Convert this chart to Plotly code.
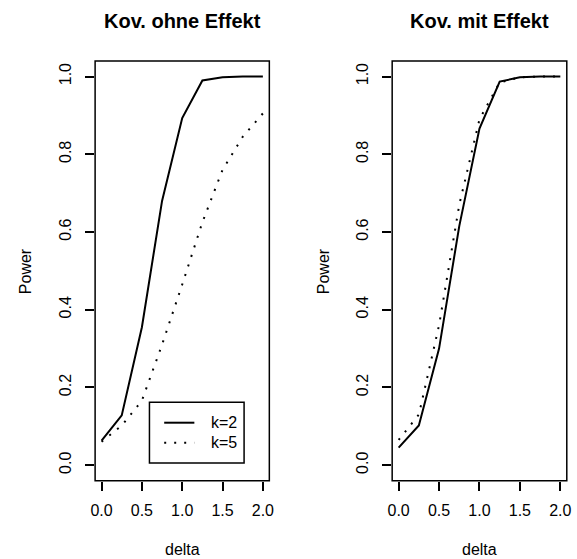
import plotly.graph_objects as go

W, H = 577, 559

delta = [0.0, 0.25, 0.5, 0.75, 1.0, 1.25, 1.5, 1.75, 2.0]
# Kov. ohne Effekt
ohne_k2 = [0.063, 0.128, 0.355, 0.68, 0.893, 0.99, 0.998, 1.0, 1.0]
ohne_k5 = [0.060, 0.102, 0.166, 0.31, 0.465, 0.625, 0.76, 0.845, 0.905]
# Kov. mit Effekt
mit_k2 = [0.045, 0.102, 0.300, 0.615, 0.866, 0.987, 0.998, 1.0, 1.0]
mit_k5 = [0.065, 0.130, 0.360, 0.670, 0.890, 0.985, 0.998, 1.0, 1.0]

titles = ["Kov. ohne Effekt", "Kov. mit Effekt"]
legend_labels = ["k=2", "k=5"]
x_ticks = [0.0, 0.5, 1.0, 1.5, 2.0]
x_ticktext = ["0.0", "0.5", "1.0", "1.5", "2.0"]
y_ticks = [0.0, 0.2, 0.4, 0.6, 0.8, 1.0]
y_ticktext = ["0.0", "0.2", "0.4", "0.6", "0.8", "1.0"]

FONT = "Liberation Sans, Arial, Helvetica, sans-serif"
DOT = "2px,8px"


def px(x):
    return x / W


def py(y):
    return 1 - y / H


# plot boxes in pixels
boxes = [(91.7, 269.0), (394.0, 571.7)]
top, bottom = 61.0, 480.7

fig = go.Figure()

series = [(ohne_k2, ohne_k5), (mit_k2, mit_k5)]
for i, (s2, s5) in enumerate(series):
    xa = "x" if i == 0 else "x2"
    ya = "y" if i == 0 else "y2"
    fig.add_trace(go.Scatter(x=delta, y=s2, mode="lines", xaxis=xa, yaxis=ya,
                             line=dict(color="black", width=2), showlegend=False,
                             name=legend_labels[0]))
    fig.add_trace(go.Scatter(x=delta, y=s5, mode="lines", xaxis=xa, yaxis=ya,
                             line=dict(color="black", width=2, dash=DOT), showlegend=False,
                             name=legend_labels[1]))

axis_common = dict(showgrid=False, zeroline=False, showline=False, ticks="outside",
                   ticklen=9, tickwidth=1.5, tickcolor="black",
                   tickfont=dict(family=FONT, size=16, color="black"))

layout = dict(width=W, height=H, margin=dict(l=0, r=0, t=0, b=0),
              paper_bgcolor="white", plot_bgcolor="white", showlegend=False)

shapes = []
annotations = []
for i, (x0, x1) in enumerate(boxes):
    sfx = "" if i == 0 else "2"
    layout["xaxis" + sfx] = dict(domain=[px(x0), px(x1)], range=[-0.08, 2.08],
                                 tickvals=x_ticks, ticktext=x_ticktext,
                                 anchor="y" + sfx, ticklabelstandoff=6, **axis_common)
    layout["yaxis" + sfx] = dict(domain=[py(bottom), py(top)], range=[-0.04, 1.04],
                                 tickvals=y_ticks, ticktext=y_ticktext, tickangle=-90,
                                 anchor="x" + sfx, ticklabelstandoff=8, **axis_common)
    shapes.append(dict(type="rect", xref="x" + sfx + " domain", yref="y" + sfx + " domain",
                       x0=0, x1=1, y0=0, y1=1, line=dict(color="black", width=1.5)))
    cx = (x0 + x1) / 2
    annotations.append(dict(text="<b>" + titles[i] + "</b>", x=px(cx), y=py(21),
                            xref="paper", yref="paper", showarrow=False,
                            xanchor="center", yanchor="middle",
                            font=dict(family=FONT, size=20, color="black")))
    annotations.append(dict(text="delta", x=px(cx), y=py(549), xref="paper", yref="paper",
                            showarrow=False, xanchor="center", yanchor="middle",
                            font=dict(family=FONT, size=16, color="black")))
    annotations.append(dict(text="Power", x=px(x0 - 70), y=py((top + bottom) / 2),
                            xref="paper", yref="paper", showarrow=False, textangle=-90,
                            xanchor="center", yanchor="middle",
                            font=dict(family=FONT, size=16, color="black")))

# legend (left panel)
shapes.append(dict(type="rect", xref="paper", yref="paper", x0=px(147), x1=px(243.3),
                   y0=py(463), y1=py(402.3), line=dict(color="black", width=1.5),
                   fillcolor="white", layer="above"))
for j, (yy, dash) in enumerate([(422.7, "solid"), (442.7, DOT)]):
    shapes.append(dict(type="line", xref="paper", yref="paper", x0=px(162), x1=px(192.7),
                       y0=py(yy), y1=py(yy), line=dict(color="black", width=2, dash=dash),
                       layer="above"))
    annotations.append(dict(text=legend_labels[j], x=px(207.5), y=py(yy), xref="paper",
                            yref="paper", showarrow=False, xanchor="left", yanchor="middle",
                            font=dict(family=FONT, size=16, color="black")))

layout["shapes"] = shapes
layout["annotations"] = annotations
fig.update_layout(**layout)
fig.write_html("out.html")
